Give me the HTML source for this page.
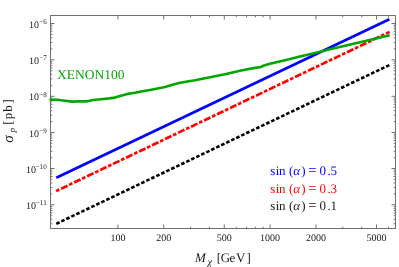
<!DOCTYPE html>
<html><head><meta charset="utf-8"><title>plot</title>
<style>html,body{margin:0;padding:0;background:#fff;}body{width:399px;height:267px;overflow:hidden;}svg{display:block;will-change:transform;opacity:0.999;}text{font-family:"Liberation Serif",serif;text-rendering:geometricPrecision;}</style></head><body>
<svg width="399" height="267" viewBox="0 0 399 267">
<rect width="399" height="267" fill="#fff"/>
<path d="M117.90 228.5v-4.0M117.90 15.5v4.0M163.72 228.5v-4.0M163.72 15.5v4.0M224.28 228.5v-4.0M224.28 15.5v4.0M270.10 228.5v-4.0M270.10 15.5v4.0M315.92 228.5v-4.0M315.92 15.5v4.0M376.48 228.5v-4.0M376.48 15.5v4.0M190.52 228.5v-1.8M190.52 15.5v1.8M209.53 228.5v-1.8M209.53 15.5v1.8M236.33 228.5v-1.8M236.33 15.5v1.8M246.52 228.5v-1.8M246.52 15.5v1.8M255.35 228.5v-1.8M255.35 15.5v1.8M263.14 228.5v-1.8M263.14 15.5v1.8M342.72 228.5v-1.8M342.72 15.5v1.8M361.73 228.5v-1.8M361.73 15.5v1.8M388.53 228.5v-1.8M388.53 15.5v1.8M50.5 204.80h4.0M395.5 204.80h-4.0M50.5 168.50h4.0M395.5 168.50h-4.0M50.5 132.50h4.0M395.5 132.50h-4.0M50.5 96.30h4.0M395.5 96.30h-4.0M50.5 59.80h4.0M395.5 59.80h-4.0M50.5 23.50h4.0M395.5 23.50h-4.0M50.5 223.75h1.8M395.5 223.75h-1.8M50.5 219.23h1.8M395.5 219.23h-1.8M50.5 215.71h1.8M395.5 215.71h-1.8M50.5 212.84h1.8M395.5 212.84h-1.8M50.5 210.42h1.8M395.5 210.42h-1.8M50.5 208.31h1.8M395.5 208.31h-1.8M50.5 206.46h1.8M395.5 206.46h-1.8M50.5 193.87h1.8M395.5 193.87h-1.8M50.5 187.48h1.8M395.5 187.48h-1.8M50.5 182.95h1.8M395.5 182.95h-1.8M50.5 179.43h1.8M395.5 179.43h-1.8M50.5 176.55h1.8M395.5 176.55h-1.8M50.5 174.12h1.8M395.5 174.12h-1.8M50.5 172.02h1.8M395.5 172.02h-1.8M50.5 170.16h1.8M395.5 170.16h-1.8M50.5 157.66h1.8M395.5 157.66h-1.8M50.5 151.32h1.8M395.5 151.32h-1.8M50.5 146.83h1.8M395.5 146.83h-1.8M50.5 143.34h1.8M395.5 143.34h-1.8M50.5 140.49h1.8M395.5 140.49h-1.8M50.5 138.08h1.8M395.5 138.08h-1.8M50.5 135.99h1.8M395.5 135.99h-1.8M50.5 134.15h1.8M395.5 134.15h-1.8M50.5 121.60h1.8M395.5 121.60h-1.8M50.5 115.23h1.8M395.5 115.23h-1.8M50.5 110.71h1.8M395.5 110.71h-1.8M50.5 107.20h1.8M395.5 107.20h-1.8M50.5 104.33h1.8M395.5 104.33h-1.8M50.5 101.91h1.8M395.5 101.91h-1.8M50.5 99.81h1.8M395.5 99.81h-1.8M50.5 97.96h1.8M395.5 97.96h-1.8M50.5 85.31h1.8M395.5 85.31h-1.8M50.5 78.89h1.8M395.5 78.89h-1.8M50.5 74.32h1.8M395.5 74.32h-1.8M50.5 70.79h1.8M395.5 70.79h-1.8M50.5 67.90h1.8M395.5 67.90h-1.8M50.5 65.45h1.8M395.5 65.45h-1.8M50.5 63.34h1.8M395.5 63.34h-1.8M50.5 61.47h1.8M395.5 61.47h-1.8M50.5 48.87h1.8M395.5 48.87h-1.8M50.5 42.48h1.8M395.5 42.48h-1.8M50.5 37.95h1.8M395.5 37.95h-1.8M50.5 34.43h1.8M395.5 34.43h-1.8M50.5 31.55h1.8M395.5 31.55h-1.8M50.5 29.12h1.8M395.5 29.12h-1.8M50.5 27.02h1.8M395.5 27.02h-1.8M50.5 25.16h1.8M395.5 25.16h-1.8" stroke="#707070" stroke-width="1" fill="none"/>
<rect x="50.5" y="15.5" width="345.0" height="213.0" fill="none" stroke="#707070" stroke-width="1" shape-rendering="crispEdges"/>
<line x1="56.3" y1="177.8" x2="389.4" y2="19.2" stroke="#0000ff" stroke-width="2.65"/>
<line x1="56.1" y1="191.1" x2="389.6" y2="31.9" stroke="#ff0000" stroke-width="2.7" stroke-dasharray="3.66 1.88 7.09 1.77"/>
<line x1="56.3" y1="223.8" x2="389.5" y2="65" stroke="#000" stroke-width="2.6" stroke-dasharray="3.6 1.936"/>
<polyline fill="none" stroke="#00a600" stroke-width="2.6" stroke-linejoin="round" points="49.6,99.6 57,99.8 65,100.8 72,101.6 80,101.2 86,101.4 93,100.0 101,99.2 109,98.4 115,97.6 120,95.9 127.5,93.9 135,92.7 142.6,91.3 150,90.0 157.6,88.5 165,87.0 172.6,84.8 180,82.8 195,80.3 210,77.3 225,74.3 240,70.7 247.5,69.2 255,67.9 261,67.0 264,65.4 270,63.8 285,60.3 300,56.5 315,53.0 330,49.3 345,45.8 360,42.3 389.7,35.3"/>
<text x="36.1" y="208.80" text-anchor="end" font-size="10" fill="#1a1a1a">10</text>
<text x="46.7" y="205.15" text-anchor="end" font-size="7.1" fill="#1a1a1a">−11</text>
<text x="36.1" y="172.50" text-anchor="end" font-size="10" fill="#1a1a1a">10</text>
<text x="46.7" y="168.85" text-anchor="end" font-size="7.1" fill="#1a1a1a">−10</text>
<text x="38.9" y="136.50" text-anchor="end" font-size="10" fill="#1a1a1a">10</text>
<text x="46.7" y="132.85" text-anchor="end" font-size="7.1" fill="#1a1a1a">−9</text>
<text x="38.9" y="100.30" text-anchor="end" font-size="10" fill="#1a1a1a">10</text>
<text x="46.7" y="96.65" text-anchor="end" font-size="7.1" fill="#1a1a1a">−8</text>
<text x="38.9" y="63.80" text-anchor="end" font-size="10" fill="#1a1a1a">10</text>
<text x="46.7" y="60.15" text-anchor="end" font-size="7.1" fill="#1a1a1a">−7</text>
<text x="38.9" y="27.50" text-anchor="end" font-size="10" fill="#1a1a1a">10</text>
<text x="46.7" y="23.85" text-anchor="end" font-size="7.1" fill="#1a1a1a">−6</text>
<text x="117.90" y="241" text-anchor="middle" font-size="10" fill="#1a1a1a">100</text>
<text x="163.72" y="241" text-anchor="middle" font-size="10" fill="#1a1a1a">200</text>
<text x="224.28" y="241" text-anchor="middle" font-size="10" fill="#1a1a1a">500</text>
<text x="270.10" y="241" text-anchor="middle" font-size="10" fill="#1a1a1a">1000</text>
<text x="315.92" y="241" text-anchor="middle" font-size="10" fill="#1a1a1a">2000</text>
<text x="376.48" y="241" text-anchor="middle" font-size="10" fill="#1a1a1a">5000</text>
<text y="261.5" font-size="13" fill="#1a1a1a"><tspan x="194.9" font-style="italic">M</tspan><tspan x="207.6" y="264.8" font-size="10.5" font-style="italic">χ</tspan><tspan y="261.5" x="216.7 220.7 229.4 236.0 246.4">[GeV]</tspan></text>
<g transform="translate(12.1,142.7) rotate(-90)"><text y="0" font-size="13" fill="#1a1a1a"><tspan x="0" y="1.2" font-size="15" font-style="italic">σ</tspan><tspan x="10.3" y="2.8" font-size="9" font-style="italic">p</tspan><tspan y="0" x="18 23.5 31 39.2">[pb]</tspan></text></g>
<text x="57" y="79" font-size="13.5" fill="#00a600">XENON100</text>
<text y="175.3" font-size="13" fill="#0000ff"><tspan x="270.2 275.7 279.1 289.1">sin(</tspan><tspan x="293.3" font-style="italic">α</tspan><tspan x="301.2">)</tspan><tspan x="308.3" font-size="14.6">=</tspan><tspan x="319.4 327.4 330.6">0.5</tspan></text>
<text y="192.5" font-size="13" fill="#ff0000"><tspan x="270.2 275.7 279.1 289.1">sin(</tspan><tspan x="293.3" font-style="italic">α</tspan><tspan x="301.2">)</tspan><tspan x="308.3" font-size="14.6">=</tspan><tspan x="319.4 327.4 330.6">0.3</tspan></text>
<text y="209.7" font-size="13" fill="#1a1a1a"><tspan x="270.2 275.7 279.1 289.1">sin(</tspan><tspan x="293.3" font-style="italic">α</tspan><tspan x="301.2">)</tspan><tspan x="308.3" font-size="14.6">=</tspan><tspan x="319.4 327.4 330.6">0.1</tspan></text>
</svg></body></html>
